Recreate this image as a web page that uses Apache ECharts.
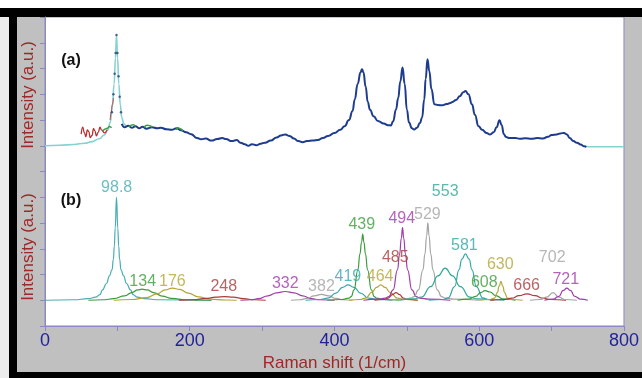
<!DOCTYPE html>
<html>
<head>
<meta charset="utf-8">
<script src="https://cdn.jsdelivr.net/npm/echarts@6/dist/echarts.min.js"></script>
<style>
html, body { margin: 0; padding: 0; background: #fff; }
#chart { width: 642px; height: 378px; }
</style>
</head>
<body>
<div id="chart"></div>
<script>
// x axis ticks, only every other one gets a label
const xTicks = [0, 100, 200, 300, 400, 500, 600, 700, 800];
const xLabelled = [0, 200, 400, 600, 800];

// (a) measured spectrum, fitted envelope and residual bits
const fitLeft = [[0,7.0],[20,7.02],[40,7.05],[55,7.1],[65,7.16],[75,7.27],[82,7.42],[87,7.62],[90,7.9],[93,8.5],[95.5,9.4],[97.3,10.4],[98.8,11.3],[100.3,10.4],[102,9.4],[104,8.6],[106,8.1],[109,7.85],[112,7.74]];
const fitRight = [[746,6.97],[760,6.96],[800,6.96]];
const measured = [[106,7.85],[110,7.72],[115,7.78],[120,7.7],[125,7.76],[130,7.68],[135,7.74],[140,7.66],[148,7.72],[155,7.68],[160,7.7],[168,7.64],[175,7.62],[182,7.68],[188,7.6],[195,7.52],[202,7.45],[210,7.3],[216,7.25],[222,7.28],[230,7.2],[238,7.26],[245,7.3],[250,7.26],[258,7.18],[265,7.22],[270,7.12],[276,7.06],[281,7.0],[286,7.06],[292,7.02],[298,7.08],[304,7.12],[312,7.2],[320,7.32],[326,7.4],[332,7.44],[338,7.38],[344,7.28],[350,7.18],[356,7.14],[362,7.18],[370,7.2],[377,7.22],[384,7.3],[391,7.38],[400,7.5],[408,7.62],[414,7.76],[420,8.0],[425,8.35],[428,8.8],[432,9.4],[436,9.85],[438,9.97],[440,9.85],[443,9.3],[446,8.7],[449,8.4],[454,8.15],[460,7.96],[468,7.86],[474,7.8],[478,7.79],[481,7.95],[485,8.41],[488,8.85],[491,9.5],[494,10.04],[497,9.4],[500,8.4],[503,7.9],[507,7.68],[510,7.63],[514,7.7],[518,7.88],[521,8.09],[524,8.8],[526,9.6],[528.5,10.36],[531,9.9],[534,9.2],[538,8.61],[543,8.58],[549,8.57],[555,8.62],[560,8.66],[563,8.7],[568,8.78],[573,8.92],[578,9.08],[581,9.13],[585,9.0],[590,8.61],[594,8.2],[599,7.76],[604,7.62],[610,7.5],[615,7.44],[620,7.52],[624,7.72],[628,7.99],[631,7.8],[634,7.45],[637,7.34],[642,7.3],[650,7.3],[656,7.27],[664,7.29],[672,7.27],[680,7.3],[688,7.28],[695,7.35],[700,7.42],[707,7.44],[712,7.48],[717,7.5],[721,7.44],[725,7.3],[730,7.18],[735,7.12],[740,7.05],[745,6.98],[748,6.96]];
const peakDots = [[92.5,8.3],[94.5,9.0],[96.2,9.8],[97.6,10.6],[98.8,11.3],[100.1,10.6],[101.6,9.7],[103.2,8.9],[105,8.3]];
const redWiggle = [[50,7.45],[52,7.72],[54.5,7.5],[56.5,7.35],[58.5,7.62],[60.5,7.55],[62.5,7.32],[65,7.4],[67,7.66],[69,7.58],[71,7.38],[73.5,7.52],[76,7.72],[78,7.62],[82,7.5],[86,7.62]];
const redFlank = [[90,8.0],[91.5,8.3],[93,8.6],[94.5,8.85]];
const greenBit1 = [[80,7.55],[83,7.65],[86,7.68],[89,7.75],[92,7.7]];
const greenBit2 = [[116,7.72],[119,7.8],[122,7.82],[125,7.75]];
const greenBit3 = [[137,7.72],[141,7.8],[145,7.78],[148,7.72]];
const greenBit4 = [[181,7.62],[184,7.7],[187,7.66],[190,7.58]];

// (b) fitted components, one array per peak
const b988 = [[0,1.0],[40,1.02],[60,1.06],[70,1.12],[76,1.22],[79.3,1.4],[85,1.65],[89,1.95],[92.6,2.18],[94.5,2.6],[95.8,3.1],[97,3.8],[98.8,5.0],[100.6,3.8],[101.8,3.1],[103.1,2.6],[105,2.18],[108.6,1.95],[112.6,1.65],[118.3,1.4],[121.6,1.22],[127.6,1.12],[137.6,1.06],[157.6,1.02],[230,1.0]];
const b134 = [[60,1.0],[80,1.02],[95,1.06],[110,1.17],[120,1.3],[128,1.4],[134,1.43],[141,1.4],[150,1.3],[162,1.16],[175,1.07],[195,1.02],[230,1.0]];
const b176 = [[95,1.0],[120,1.03],[140,1.1],[155,1.25],[166,1.4],[176,1.47],[186,1.42],[198,1.28],[212,1.13],[228,1.04],[250,1.01],[265,1.0]];
const b248 = [[185,1.0],[205,1.02],[222,1.07],[236,1.12],[248,1.14],[260,1.12],[274,1.06],[290,1.02],[305,1.0]];
const b332 = [[270,1.0],[285,1.02],[295,1.06],[308,1.17],[320,1.29],[332,1.34],[344,1.29],[356,1.17],[368,1.06],[380,1.02],[400,1.0]];
const b382 = [[340,1.0],[352,1.02],[362,1.07],[372,1.17],[382,1.23],[392,1.17],[402,1.07],[412,1.02],[425,1.0]];
const b419 = [[360,1.0],[380,1.03],[391,1.08],[402,1.28],[411,1.5],[419,1.6],[427,1.5],[436,1.28],[447,1.08],[460,1.03],[480,1.0]];
const b439 = [[390,1.0],[410,1.03],[420,1.08],[423,1.14],[427,1.4],[432.3,2.18],[435.2,2.8],[437.3,3.25],[439,3.57],[440.7,3.25],[442.8,2.8],[445.7,2.18],[451,1.4],[455,1.14],[458,1.08],[468,1.03],[490,1.0]];
const b464 = [[420,1.0],[435,1.03],[443,1.08],[452,1.32],[458,1.5],[464,1.6],[470,1.5],[477,1.3],[487,1.08],[497,1.03],[515,1.0]];
const b485 = [[455,1.0],[468,1.03],[474,1.08],[480,1.22],[485,1.3],[490,1.22],[495,1.08],[502,1.03],[515,1.0]];
const b494 = [[440,1.0],[460,1.04],[470,1.08],[475,1.14],[481,1.4],[487,2.18],[490,2.8],[492.3,3.4],[494,3.82],[495.7,3.4],[498,2.8],[501,2.18],[507,1.4],[513,1.14],[518,1.08],[530,1.04],[560,1.0]];
const b529 = [[475,1.0],[495,1.04],[505,1.08],[510,1.14],[516,1.4],[522.2,2.18],[525,2.8],[527.3,3.5],[529,4.01],[530.7,3.5],[533,2.8],[536,2.18],[542,1.4],[548,1.14],[553,1.08],[565,1.04],[600,1.0]];
const b553 = [[490,1.0],[510,1.05],[520,1.12],[533,1.53],[543,1.95],[553,2.25],[563,1.95],[574,1.53],[587,1.12],[597,1.05],[620,1.0]];
const b581 = [[530,1.0],[550,1.03],[557,1.09],[566,1.53],[572,2.18],[576,2.6],[581,2.8],[586,2.6],[590,2.18],[596,1.53],[605,1.09],[612,1.03],[635,1.0]];
const b608 = [[570,1.0],[585,1.04],[595,1.15],[602,1.3],[608,1.37],[615,1.32],[623,1.18],[633,1.05],[650,1.0]];
const b630 = [[600,1.0],[615,1.03],[621,1.08],[625,1.3],[627.5,1.55],[630,1.73],[632.5,1.55],[635,1.3],[639,1.08],[645,1.03],[660,1.0]];
const b666 = [[615,1.0],[635,1.03],[645,1.08],[655,1.18],[666,1.25],[677,1.18],[688,1.08],[698,1.03],[720,1.0]];
const b702 = [[670,1.0],[685,1.03],[693,1.12],[702,1.3],[710,1.12],[718,1.03],[735,1.0]];
const b721 = [[690,1.0],[702,1.04],[710,1.15],[716,1.38],[721,1.47],[726,1.38],[732,1.15],[740,1.04],[750,1.0]];

// peak labels and where their text sits (data units)
const peakNames = ['98.8','134','176','248','332','382','419','439','464','485','494','529','553','581','608','630','666','702','721'];
const labelX = [99,135,176,247,332,382,418.5,437.7,463,484,493,528.3,553,579.5,607,629,665.5,700.8,719.5];
const labelY = [5.36,1.71,1.71,1.52,1.66,1.53,1.92,3.93,1.92,2.65,4.17,4.31,5.21,3.13,1.70,2.40,1.58,2.64,1.79];

const components = [b988,b134,b176,b248,b332,b382,b419,b439,b464,b485,b494,b529,b553,b581,b608,b630,b666,b702,b721];
const peakColors = ['#46aeb0','#3c9c3c','#b4a632','#a83c3c','#a03ca8','#a4a4a4','#38a8b0','#3c9c3c','#b4a632','#a83c3c','#a03ca8','#a4a4a4','#30a898','#30a8a4','#3c9c3c','#b4a632','#a83c3c','#a4a4a4','#a03ca8'];

const FONT = 'Arial, "Liberation Sans", sans-serif';
const AXIS = '#8c88c4';
const DARKRED = '#a02828';

const chart = echarts.init(document.getElementById('chart'));

function line(data, color, width, z) {
    return {
        type: 'line', data: data, smooth: true, smoothMonotone: 'x',
        showSymbol: false, symbol: 'none', z: z || 2,
        lineStyle: { color: color, width: width }
    };
}

let series = [];
// panel (b)
components.forEach(function (c, i) {
    series.push(line(c, peakColors[i], 1.2, 2));
});
series.push({
    type: 'scatter', symbolSize: 0, z: 5,
    data: peakNames.map(function (n, i) {
        return { value: [labelX[i], labelY[i]], label: { color: peakColors[i] } };
    }),
    label: {
        show: true, position: 'inside', fontSize: 16, fontFamily: FONT,
        formatter: function (p) { return peakNames[p.dataIndex]; }
    }
});
// panel (a)
series.push(line(fitLeft, '#86d2d0', 1.6, 3));
series.push(line(fitRight, '#86d2d0', 1.6, 3));
series.push(line(measured, '#1e3c8e', 2, 4));
series.push(line(redWiggle, '#b83030', 1.3, 4));
series.push(line(redFlank, '#c04040', 1, 4));
[greenBit1, greenBit2, greenBit3, greenBit4].forEach(function (g) {
    series.push(line(g, '#3aa040', 1.5, 5));
});
series.push({
    type: 'scatter', data: peakDots, symbolSize: 2.5, z: 5,
    itemStyle: { color: '#28407a' }
});

chart.setOption({
    animation: false,
    backgroundColor: '#c0c0c0',
    grid: {
        left: 45, right: 14, top: 17, bottom: 52,
        show: true, backgroundColor: '#ffffff', borderColor: AXIS, borderWidth: 1
    },
    xAxis: {
        type: 'value', min: xTicks[0], max: xTicks[xTicks.length - 1], interval: 100,
        axisLine: { lineStyle: { color: AXIS } },
        axisTick: { length: 5, lineStyle: { color: AXIS } },
        splitLine: { show: false },
        axisLabel: {
            color: '#22229a', fontSize: 18, fontFamily: FONT, margin: 6,
            formatter: function (v) { return xLabelled.indexOf(v) >= 0 ? String(v) : ''; }
        },
        name: 'Raman shift (1/cm)', nameLocation: 'middle', nameGap: 27,
        nameTextStyle: { color: DARKRED, fontSize: 17, fontFamily: FONT }
    },
    yAxis: {
        type: 'value', min: 0, max: 12, interval: 1,
        axisLine: { show: true, lineStyle: { color: AXIS } },
        axisTick: { show: true, length: 5, lineStyle: { color: AXIS } },
        axisLabel: { show: false },
        splitLine: { show: false }
    },
    graphic: [
        { type: 'rect', shape: { x: 0, y: 0, width: 642, height: 8 }, style: { fill: '#ffffff' }, silent: true },
        { type: 'rect', shape: { x: 0, y: 8, width: 9, height: 370 }, style: { fill: '#ececec' }, silent: true },
        { type: 'rect', shape: { x: 0, y: 8, width: 642, height: 9 }, style: { fill: '#000000' }, silent: true },
        { type: 'rect', shape: { x: 9, y: 8, width: 8, height: 370 }, style: { fill: '#000000' }, silent: true },
        { type: 'rect', shape: { x: 9, y: 372, width: 633, height: 6 }, style: { fill: '#000000' }, silent: true },
        { type: 'text', x: 28, y: 95, rotation: Math.PI / 2, z: 100,
          style: { text: 'Intensity (a.u.)', fill: DARKRED, font: '17px ' + FONT, align: 'center', verticalAlign: 'middle' } },
        { type: 'text', x: 28, y: 247, rotation: Math.PI / 2, z: 100,
          style: { text: 'Intensity (a.u.)', fill: DARKRED, font: '17px ' + FONT, align: 'center', verticalAlign: 'middle' } },
        { type: 'text', x: 71, y: 61, z: 100,
          style: { text: '(a)', fill: '#111', font: 'bold 16px ' + FONT, align: 'center', verticalAlign: 'middle' } },
        { type: 'text', x: 71, y: 201, z: 100,
          style: { text: '(b)', fill: '#111', font: 'bold 16px ' + FONT, align: 'center', verticalAlign: 'middle' } }
    ],
    series: series
});
</script>
</body>
</html>
